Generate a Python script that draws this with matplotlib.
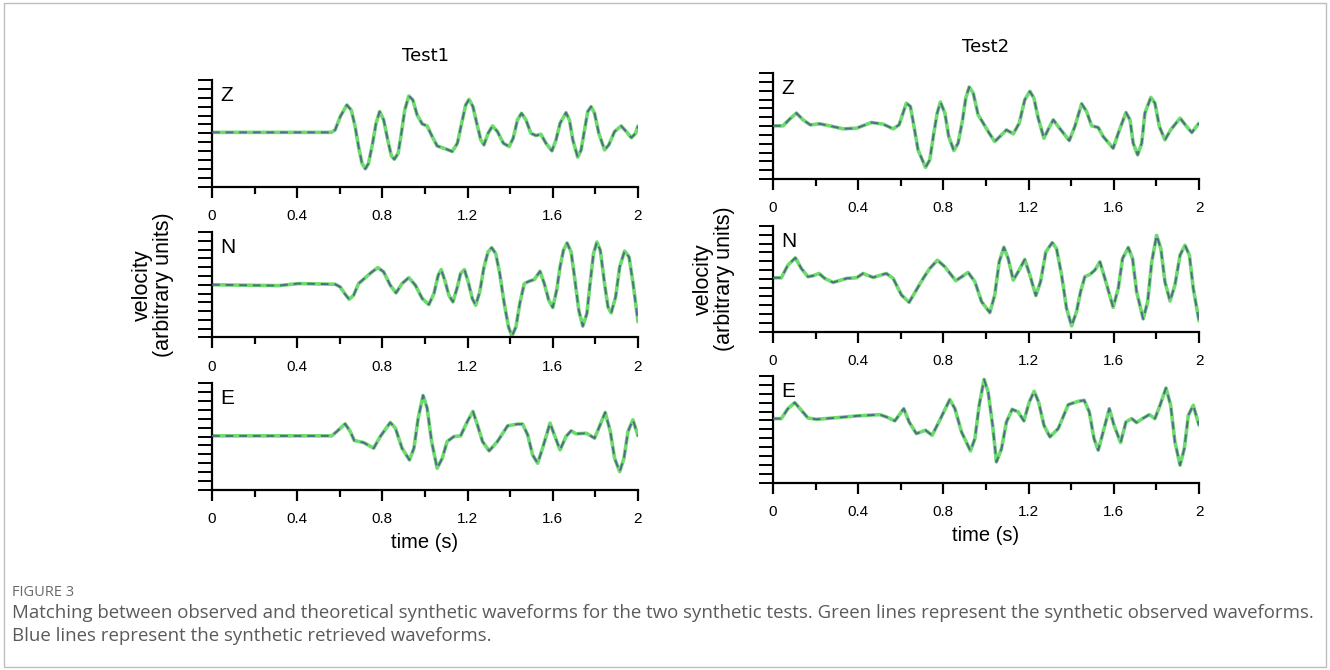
import matplotlib.pyplot as plt
from matplotlib.ticker import MultipleLocator
from matplotlib.patches import Rectangle

# Test1 - Z
t1z = [0, 0.56, 0.578, 0.602, 0.633, 0.654, 0.672, 0.688, 0.704, 0.72, 0.735, 0.754, 0.77, 0.787,
       0.806, 0.825, 0.842, 0.856, 0.874, 0.889, 0.905, 0.924, 0.943, 0.963, 0.987, 1.01, 1.034,
       1.057, 1.097, 1.128, 1.152, 1.172, 1.191, 1.207, 1.225, 1.243, 1.262, 1.277, 1.296, 1.317,
       1.34, 1.368, 1.395, 1.414, 1.434, 1.453, 1.474, 1.497, 1.521, 1.544, 1.568, 1.596, 1.615,
       1.634, 1.662, 1.678, 1.694, 1.717, 1.733, 1.749, 1.764, 1.78, 1.796, 1.816, 1.843, 1.863,
       1.89, 1.921, 1.945, 1.969, 1.989, 2.0]
v1z = [6.1, 6.1, 6.37, 7.87, 9.19, 8.6, 6.75, 4.5, 2.62, 1.99, 2.62, 4.87, 7.1, 8.44,
       7.5, 5.25, 3.45, 3.07, 3.75, 6.0, 8.62, 10.2, 9.75, 8.06, 7.05, 6.82, 5.62,
       4.57, 4.24, 3.94, 4.87, 7.12, 9.19, 9.82, 9.0, 7.12, 5.25, 4.69, 6.0, 6.82,
       6.19, 4.87, 4.5, 5.44, 7.5, 8.25, 7.5, 6.0, 5.74, 5.89, 4.87, 4.01, 5.25,
       7.12, 8.32, 7.5, 5.25, 3.3, 4.12, 6.37, 8.44, 9.0, 8.25, 6.0, 4.12, 4.69,
       6.19, 6.82, 6.19, 5.5, 6.0, 6.82]

# Test1 - N
t1n = [0, 0.311, 0.405, 0.578, 0.602, 0.625, 0.644, 0.665, 0.688, 0.72, 0.751, 0.779, 0.806,
       0.837, 0.864, 0.892, 0.924, 0.955, 0.987, 1.018, 1.042, 1.062, 1.076, 1.093, 1.112, 1.131,
       1.152, 1.167, 1.185, 1.203, 1.222, 1.238, 1.257, 1.277, 1.296, 1.313, 1.332, 1.351, 1.372,
       1.392, 1.408, 1.427, 1.445, 1.466, 1.489, 1.513, 1.54, 1.56, 1.581, 1.6, 1.618, 1.634,
       1.65, 1.667, 1.686, 1.702, 1.722, 1.741, 1.76, 1.775, 1.791, 1.807, 1.823, 1.843, 1.859,
       1.874, 1.895, 1.914, 1.937, 1.958, 1.977, 2.0]
v1n = [6.0, 5.9, 6.13, 6.06, 5.75, 4.92, 4.35, 4.81, 6.13, 6.81, 7.46, 7.95, 7.46,
       5.94, 5.07, 6.13, 6.81, 5.94, 4.43, 3.75, 5.0, 7.08, 7.72, 6.51, 4.81, 4.05,
       5.75, 7.27, 7.72, 6.32, 4.43, 3.67, 5.19, 8.02, 9.73, 10.22, 9.54, 7.27, 3.86,
       1.21, 0.15, 1.21, 3.86, 6.13, 6.4, 6.59, 7.53, 6.13, 4.24, 3.41, 5.37, 8.02,
       9.92, 10.75, 9.73, 6.89, 3.1, 1.29, 2.73, 6.13, 9.54, 10.86, 9.92, 6.13, 3.48,
       2.8, 4.62, 8.02, 9.84, 9.16, 6.13, 1.78]

# Test1 - E
t1e = [0, 0.562, 0.586, 0.625, 0.649, 0.668, 0.688, 0.712, 0.759, 0.79, 0.837, 0.861, 0.892,
       0.927, 0.948, 0.968, 0.991, 1.01, 1.031, 1.057, 1.081, 1.104, 1.136, 1.167, 1.199, 1.225,
       1.246, 1.27, 1.301, 1.34, 1.388, 1.434, 1.458, 1.482, 1.505, 1.529, 1.552, 1.587, 1.607,
       1.634, 1.662, 1.686, 1.709, 1.757, 1.796, 1.816, 1.846, 1.87, 1.89, 1.914, 1.934, 1.953,
       1.976, 2.0]
v1e = [6.07, 6.07, 6.56, 7.42, 6.56, 5.55, 5.44, 5.32, 4.69, 6.0, 7.57, 6.94, 4.69,
       3.37, 4.69, 8.06, 10.61, 9.19, 5.44, 2.44, 3.56, 5.44, 6.0, 6.07, 7.69, 8.81,
       7.31, 5.44, 4.39, 5.44, 7.2, 7.39, 7.39, 6.19, 3.94, 3.0, 4.69, 7.5, 6.19,
       4.5, 6.0, 6.64, 6.3, 6.37, 5.81, 6.94, 8.7, 6.56, 3.56, 2.06, 3.56, 6.56,
       7.87, 6.07]

# Test2 - Z
t2z = [0, 0.047, 0.078, 0.11, 0.141, 0.175, 0.219, 0.266, 0.329, 0.392, 0.462, 0.517, 0.564,
       0.592, 0.626, 0.645, 0.662, 0.681, 0.716, 0.736, 0.755, 0.771, 0.786, 0.807, 0.825, 0.849,
       0.869, 0.89, 0.905, 0.921, 0.94, 0.963, 0.987, 1.015, 1.041, 1.068, 1.096, 1.128, 1.156,
       1.182, 1.206, 1.225, 1.245, 1.272, 1.295, 1.316, 1.339, 1.391, 1.417, 1.449, 1.472, 1.496,
       1.527, 1.55, 1.597, 1.621, 1.657, 1.676, 1.691, 1.712, 1.731, 1.746, 1.774, 1.793, 1.814,
       1.84, 1.867, 1.911, 1.942, 1.966, 2.0]
v2z = [6.02, 6.02, 6.78, 7.46, 6.7, 6.13, 6.25, 6.02, 5.68, 5.75, 6.4, 6.21, 5.68,
       6.13, 8.59, 8.21, 5.94, 3.29, 1.32, 2.16, 5.19, 7.46, 8.71, 7.46, 4.81, 3.22,
       4.05, 6.7, 9.16, 10.41, 9.73, 7.27, 6.32, 5.19, 4.24, 4.88, 5.56, 5.11, 6.32,
       8.97, 9.92, 9.16, 6.89, 4.62, 5.75, 6.7, 5.94, 4.35, 5.94, 8.52, 7.65, 6.02,
       5.83, 4.81, 3.48, 5.19, 7.53, 6.7, 4.05, 2.73, 4.05, 7.46, 9.24, 8.59, 5.94,
       4.43, 5.56, 6.89, 5.94, 5.26, 6.32]

# Test2 - N
t2n = [0, 0.039, 0.07, 0.105, 0.133, 0.164, 0.188, 0.216, 0.243, 0.282, 0.345, 0.392, 0.423,
       0.47, 0.532, 0.564, 0.603, 0.639, 0.673, 0.705, 0.736, 0.772, 0.807, 0.858, 0.916, 0.948,
       0.979, 1.018, 1.041, 1.062, 1.084, 1.104, 1.128, 1.151, 1.182, 1.206, 1.234, 1.256, 1.281,
       1.311, 1.331, 1.355, 1.378, 1.402, 1.425, 1.444, 1.464, 1.488, 1.511, 1.535, 1.558, 1.597,
       1.621, 1.641, 1.668, 1.688, 1.707, 1.738, 1.759, 1.778, 1.801, 1.821, 1.84, 1.864, 1.887,
       1.911, 1.934, 1.955, 1.973, 2.0]
v2n = [6.11, 6.11, 7.55, 8.38, 7.17, 6.23, 6.34, 6.6, 6.04, 5.58, 6.04, 6.11, 6.6,
       6.15, 6.6, 6.04, 4.15, 3.32, 4.72, 6.04, 7.17, 8.11, 7.36, 5.77, 6.72, 5.66,
       3.4, 2.15, 4.15, 7.92, 9.58, 8.3, 5.85, 6.79, 8.19, 6.42, 4.08, 5.66, 9.06,
       10.11, 9.43, 6.42, 2.64, 0.64, 2.26, 4.53, 6.23, 6.49, 6.98, 7.92, 6.04, 2.75,
       4.91, 8.3, 9.55, 8.3, 4.53, 1.43, 3.4, 7.92, 10.94, 9.43, 5.66, 3.47, 5.28,
       8.68, 9.81, 8.68, 4.91, 1.21]

# Test2 - E
t2e = [0, 0.039, 0.07, 0.102, 0.133, 0.164, 0.204, 0.282, 0.392, 0.501, 0.532, 0.572, 0.614,
       0.639, 0.673, 0.716, 0.747, 0.775, 0.83, 0.854, 0.885, 0.927, 0.948, 0.968, 0.991, 1.01,
       1.031, 1.049, 1.073, 1.096, 1.123, 1.151, 1.178, 1.203, 1.226, 1.247, 1.272, 1.3, 1.339,
       1.386, 1.433, 1.461, 1.485, 1.507, 1.527, 1.55, 1.579, 1.601, 1.632, 1.657, 1.684, 1.707,
       1.735, 1.767, 1.793, 1.817, 1.845, 1.867, 1.887, 1.911, 1.931, 1.95, 1.973, 2.0]
v2e = [7.2, 7.2, 8.32, 9.0, 8.14, 7.27, 7.12, 7.27, 7.5, 7.65, 7.39, 6.94, 8.32,
       6.82, 5.51, 5.89, 5.32, 6.64, 9.34, 8.32, 5.7, 3.56, 4.95, 8.7, 11.62, 10.2,
       6.45, 2.32, 3.82, 6.82, 8.25, 7.95, 6.94, 9.07, 10.27, 9.07, 6.45, 5.14, 6.07,
       8.77, 9.15, 9.26, 7.95, 4.95, 3.64, 5.7, 8.32, 6.45, 4.5, 6.82, 7.2, 6.75,
       7.2, 7.65, 7.2, 8.7, 10.65, 8.7, 4.57, 1.95, 3.82, 7.57, 8.7, 6.45]

x_ticks = [0, 0.4, 0.8, 1.2, 1.6, 2]
x_labels = ["0", "0.4", "0.8", "1.2", "1.6", "2"]
components = ["Z", "N", "E"]
tests = ["Test1", "Test2"]

plt.rcParams['font.family'] = ['Liberation Sans', 'DejaVu Sans']

fig = plt.figure(figsize=(13.3, 6.7), dpi=100)

# outer frame
fig.patches.append(Rectangle((0.003, 0.004), 0.994, 0.991, transform=fig.transFigure,
                             fill=False, edgecolor='#bdbdbd', linewidth=1.0))

W, H = 1330.0, 670.0
# (left, bottom px, top px) for each panel
boxes = [
    [(212, 186.5, 80), (212, 337.5, 232), (212, 490, 383)],
    [(773, 179, 73), (773, 331.5, 226), (773, 482.5, 376)],
]
series = [[(t1z, v1z), (t1n, v1n), (t1e, v1e)],
          [(t2z, v2z), (t2n, v2n), (t2e, v2e)]]
title_pads = [14, 15]

for col in range(2):
    for row in range(3):
        left, bot, top = boxes[col][row]
        ax = fig.add_axes([left / W, 1 - bot / H, 426 / W, (bot - top) / H])
        t, v = series[col][row]
        ax.plot(t, v, color='#6ddc6d', lw=2.6, solid_joinstyle='round',
                solid_capstyle='round', zorder=2)
        ax.plot(t, v, color='#56688c', lw=1.4, dashes=(4, 3), dash_joinstyle='round',
                zorder=3)
        ax.set_xlim(0, 2)
        ax.set_ylim(0, 12)
        for s in ['top', 'right']:
            ax.spines[s].set_visible(False)
        for s in ['left', 'bottom']:
            ax.spines[s].set_linewidth(1.6)
        ax.set_xticks(x_ticks)
        ax.set_xticklabels(x_labels)
        ax.xaxis.set_minor_locator(MultipleLocator(0.2))
        ax.yaxis.set_major_locator(MultipleLocator(1))
        ax.set_yticklabels([])
        ax.tick_params(axis='x', which='major', direction='out', length=8, width=1.6,
                       labelsize=11, pad=8)
        ax.tick_params(axis='x', which='minor', direction='out', length=5, width=1.6)
        ax.tick_params(axis='y', which='major', direction='out', length=10, width=1.4)
        ax.text(0.02, 0.94, components[row], transform=ax.transAxes, fontsize=15,
                ha='left', va='top')
        if row == 2:
            ax.set_xlabel("time (s)", fontsize=14.5, labelpad=5)
        if row == 1:
            ax.set_ylabel("velocity\n(arbitrary units)", fontsize=15.5, labelpad=14,
                          linespacing=1.0)
        if row == 0:
            ax.set_title(tests[col], fontsize=13, pad=title_pads[col],
                         family=['Liberation Sans Narrow', 'DejaVu Sans'])

cap_font = ['Open Sans', 'DejaVu Sans']
fig.text(12 / W, 1 - 592 / H, "FIGURE 3", fontsize=10.5, color='#6a6a6a', va='center',
         family=cap_font)
fig.text(12 / W, 1 - 613 / H,
         "Matching between observed and theoretical synthetic waveforms for the two synthetic tests. "
         "Green lines represent the synthetic observed waveforms.",
         fontsize=13.4, color='#5a5a5a', va='center', family=cap_font)
fig.text(12 / W, 1 - 636 / H, "Blue lines represent the synthetic retrieved waveforms.",
         fontsize=13.4, color='#5a5a5a', va='center', family=cap_font)

fig.savefig("out.png", dpi=100)
